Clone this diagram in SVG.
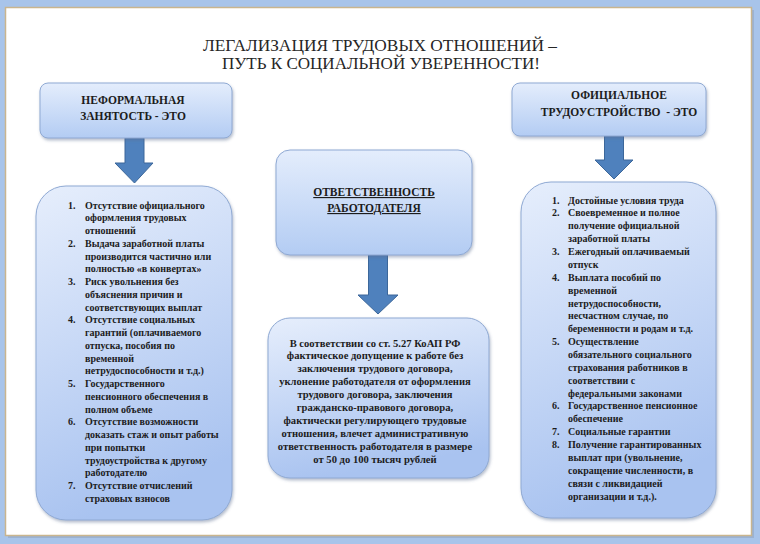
<svg xmlns="http://www.w3.org/2000/svg" width="760" height="544" viewBox="0 0 760 544" font-family="Liberation Serif, Tinos, DejaVu Serif, Times New Roman, serif">
<defs>
<linearGradient id="gBox" x1="0" y1="0" x2="0.25" y2="1">
<stop offset="0" stop-color="#e6eefc"/>
<stop offset="1" stop-color="#a9c3f0"/>
</linearGradient>
<linearGradient id="gHead" x1="0" y1="0" x2="0" y2="1">
<stop offset="0" stop-color="#e4edfc"/>
<stop offset="1" stop-color="#b3ccf3"/>
</linearGradient>
<filter id="sh" x="-10%" y="-10%" width="130%" height="130%">
<feDropShadow dx="1" dy="2" stdDeviation="1.5" flood-color="#5a6f90" flood-opacity="0.45"/>
</filter>
</defs>
<style>
.box{fill:url(#gBox);stroke:#8fa9d3;stroke-width:1;filter:url(#sh)}
.head{fill:url(#gHead);stroke:#8fa9d3;stroke-width:1;filter:url(#sh)}
.arrow{fill:#4f81bd;stroke:#3c679a;stroke-width:1}
.title{font-size:17px;fill:#262626;text-anchor:middle}
.ht{font-size:11.5px;font-weight:bold;fill:#1c1c1c;text-anchor:middle}
.li{font-size:10px;font-weight:bold;fill:#1c1c1c}
.mt{font-size:10.6px;font-weight:bold;fill:#1c1c1c;text-anchor:middle}
</style>
<rect x="0" y="0" width="760" height="544" fill="#a8c4ea"/>
<rect x="8" y="10" width="746" height="528" fill="#8d9fb8" opacity="0.5"/>
<rect x="5.5" y="7.5" width="746" height="528" fill="#ffffff" stroke="#c9b58e" stroke-width="1.5"/>

<g id="title">
<text class="title" x="380" y="51" textLength="354" lengthAdjust="spacingAndGlyphs">ЛЕГАЛИЗАЦИЯ ТРУДОВЫХ ОТНОШЕНИЙ –</text>
<text class="title" x="381" y="69" textLength="318" lengthAdjust="spacingAndGlyphs">ПУТЬ К СОЦИАЛЬНОЙ УВЕРЕННОСТИ!</text>
</g>

<g id="connectors">
<path class="arrow" d="M125,138 H144 V163 H153 L134.5,183 L115,163 H125 Z"/>
<path class="arrow" d="M368.5,255 H387.5 V295 H398 L378,314 L358,295 H368.5 Z"/>
<path class="arrow" d="M604.5,136 H623.5 V160 H633 L614,179 L595,160 H604.5 Z"/>
</g>

<g id="node-informal-head">
<rect class="head" x="40" y="83" width="192" height="55" rx="8"/>
<text class="ht" x="133" y="104">НЕФОРМАЛЬНАЯ</text>
<text class="ht" x="133" y="120">ЗАНЯТОСТЬ - ЭТО</text>
</g>

<g id="node-official-head">
<rect class="head" x="512" y="83" width="194" height="53" rx="8"/>
<text class="ht" x="619" y="99">ОФИЦИАЛЬНОЕ</text>
<text class="ht" x="619" y="116" xml:space="preserve">ТРУДОУСТРОЙСТВО  - ЭТО</text>
</g>

<g id="node-responsibility">
<rect class="head" x="276" y="150" width="196" height="105" rx="14"/>
<text class="ht" x="374" y="196" text-decoration="underline">ОТВЕТСТВЕННОСТЬ</text>
<text class="ht" x="374" y="212" text-decoration="underline">РАБОТОДАТЕЛЯ</text>
</g>

<g id="node-informal-list">
<rect class="box" x="36" y="186" width="196" height="334" rx="30"/>
<text class="li" x="68" y="208.5">1.</text><text class="li" x="85" y="208.5">Отсутствие официального</text>
<text class="li" x="85" y="221.3">оформления трудовых</text>
<text class="li" x="85" y="234">отношений</text>
<text class="li" x="68" y="246.8">2.</text><text class="li" x="85" y="246.8">Выдача заработной платы</text>
<text class="li" x="85" y="259.5">производится частично или</text>
<text class="li" x="85" y="272.3">полностью «в конвертах»</text>
<text class="li" x="68" y="285">3.</text><text class="li" x="85" y="285">Риск увольнения без</text>
<text class="li" x="85" y="297.8">объяснения причин и</text>
<text class="li" x="85" y="310.5">соответствующих выплат</text>
<text class="li" x="68" y="323.3">4.</text><text class="li" x="85" y="323.3">Отсутствие социальных</text>
<text class="li" x="85" y="336">гарантий (оплачиваемого</text>
<text class="li" x="85" y="348.8">отпуска, пособия по</text>
<text class="li" x="85" y="361.5">временной</text>
<text class="li" x="85" y="374.3">нетрудоспособности и т.д.)</text>
<text class="li" x="68" y="387">5.</text><text class="li" x="85" y="387">Государственного</text>
<text class="li" x="85" y="399.8">пенсионного обеспечения в</text>
<text class="li" x="85" y="412.5">полном объеме</text>
<text class="li" x="68" y="425.3">6.</text><text class="li" x="85" y="425.3">Отсутствие возможности</text>
<text class="li" x="85" y="438">доказать стаж и опыт работы</text>
<text class="li" x="85" y="450.8">при попытки</text>
<text class="li" x="85" y="463.5">трудоустройства к другому</text>
<text class="li" x="85" y="476.3">работодателю</text>
<text class="li" x="68" y="489">7.</text><text class="li" x="85" y="489">Отсутствие отчислений</text>
<text class="li" x="85" y="501.8">страховых взносов</text>
</g>

<g id="node-responsibility-text">
<rect class="box" x="268" y="318" width="221" height="160" rx="22"/>
<text class="mt" x="375" y="346.5">В соответствии со ст. 5.27 КоАП РФ</text>
<text class="mt" x="375" y="359.4">фактическое допущение к работе без</text>
<text class="mt" x="375" y="372.3">заключения трудового договора,</text>
<text class="mt" x="375" y="385.2">уклонение работодателя от оформления</text>
<text class="mt" x="375" y="398.1">трудового договора, заключения</text>
<text class="mt" x="375" y="411">гражданско-правового договора,</text>
<text class="mt" x="375" y="423.9">фактически регулирующего трудовые</text>
<text class="mt" x="375" y="436.8">отношения, влечет административную</text>
<text class="mt" x="375" y="449.7">ответственность работодателя в размере</text>
<text class="mt" x="375" y="462.6">от 50 до 100 тысяч рублей</text>
</g>

<g id="node-official-list">
<rect class="box" x="521" y="182" width="195" height="336" rx="30"/>
<text class="li" x="552" y="203.5">1.</text><text class="li" x="568" y="203.5">Достойные условия труда</text>
<text class="li" x="552" y="216.4">2.</text><text class="li" x="568" y="216.4">Своевременное и полное</text>
<text class="li" x="568" y="229.2">получение официальной</text>
<text class="li" x="568" y="242.1">заработной платы</text>
<text class="li" x="552" y="255">3.</text><text class="li" x="568" y="255">Ежегодный оплачиваемый</text>
<text class="li" x="568" y="267.9">отпуск</text>
<text class="li" x="552" y="280.7">4.</text><text class="li" x="568" y="280.7">Выплата пособий по</text>
<text class="li" x="568" y="293.6">временной</text>
<text class="li" x="568" y="306.5">нетрудоспособности,</text>
<text class="li" x="568" y="319.3">несчастном случае, по</text>
<text class="li" x="568" y="332.2">беременности и родам и т.д.</text>
<text class="li" x="552" y="345.1">5.</text><text class="li" x="568" y="345.1">Осуществление</text>
<text class="li" x="568" y="357.9">обязательного социального</text>
<text class="li" x="568" y="370.8">страхования работников в</text>
<text class="li" x="568" y="383.7">соответствии с</text>
<text class="li" x="568" y="396.6">федеральными законами</text>
<text class="li" x="552" y="409.4">6.</text><text class="li" x="568" y="409.4">Государственное пенсионное</text>
<text class="li" x="568" y="422.3">обеспечение</text>
<text class="li" x="552" y="435.2">7.</text><text class="li" x="568" y="435.2">Социальные гарантии</text>
<text class="li" x="552" y="448">8.</text><text class="li" x="568" y="448">Получение гарантированных</text>
<text class="li" x="568" y="460.9">выплат при (увольнение,</text>
<text class="li" x="568" y="473.8">сокращение численности, в</text>
<text class="li" x="568" y="486.6">связи с ликвидацией</text>
<text class="li" x="568" y="499.5">организации и т.д.).</text>
</g>
</svg>
